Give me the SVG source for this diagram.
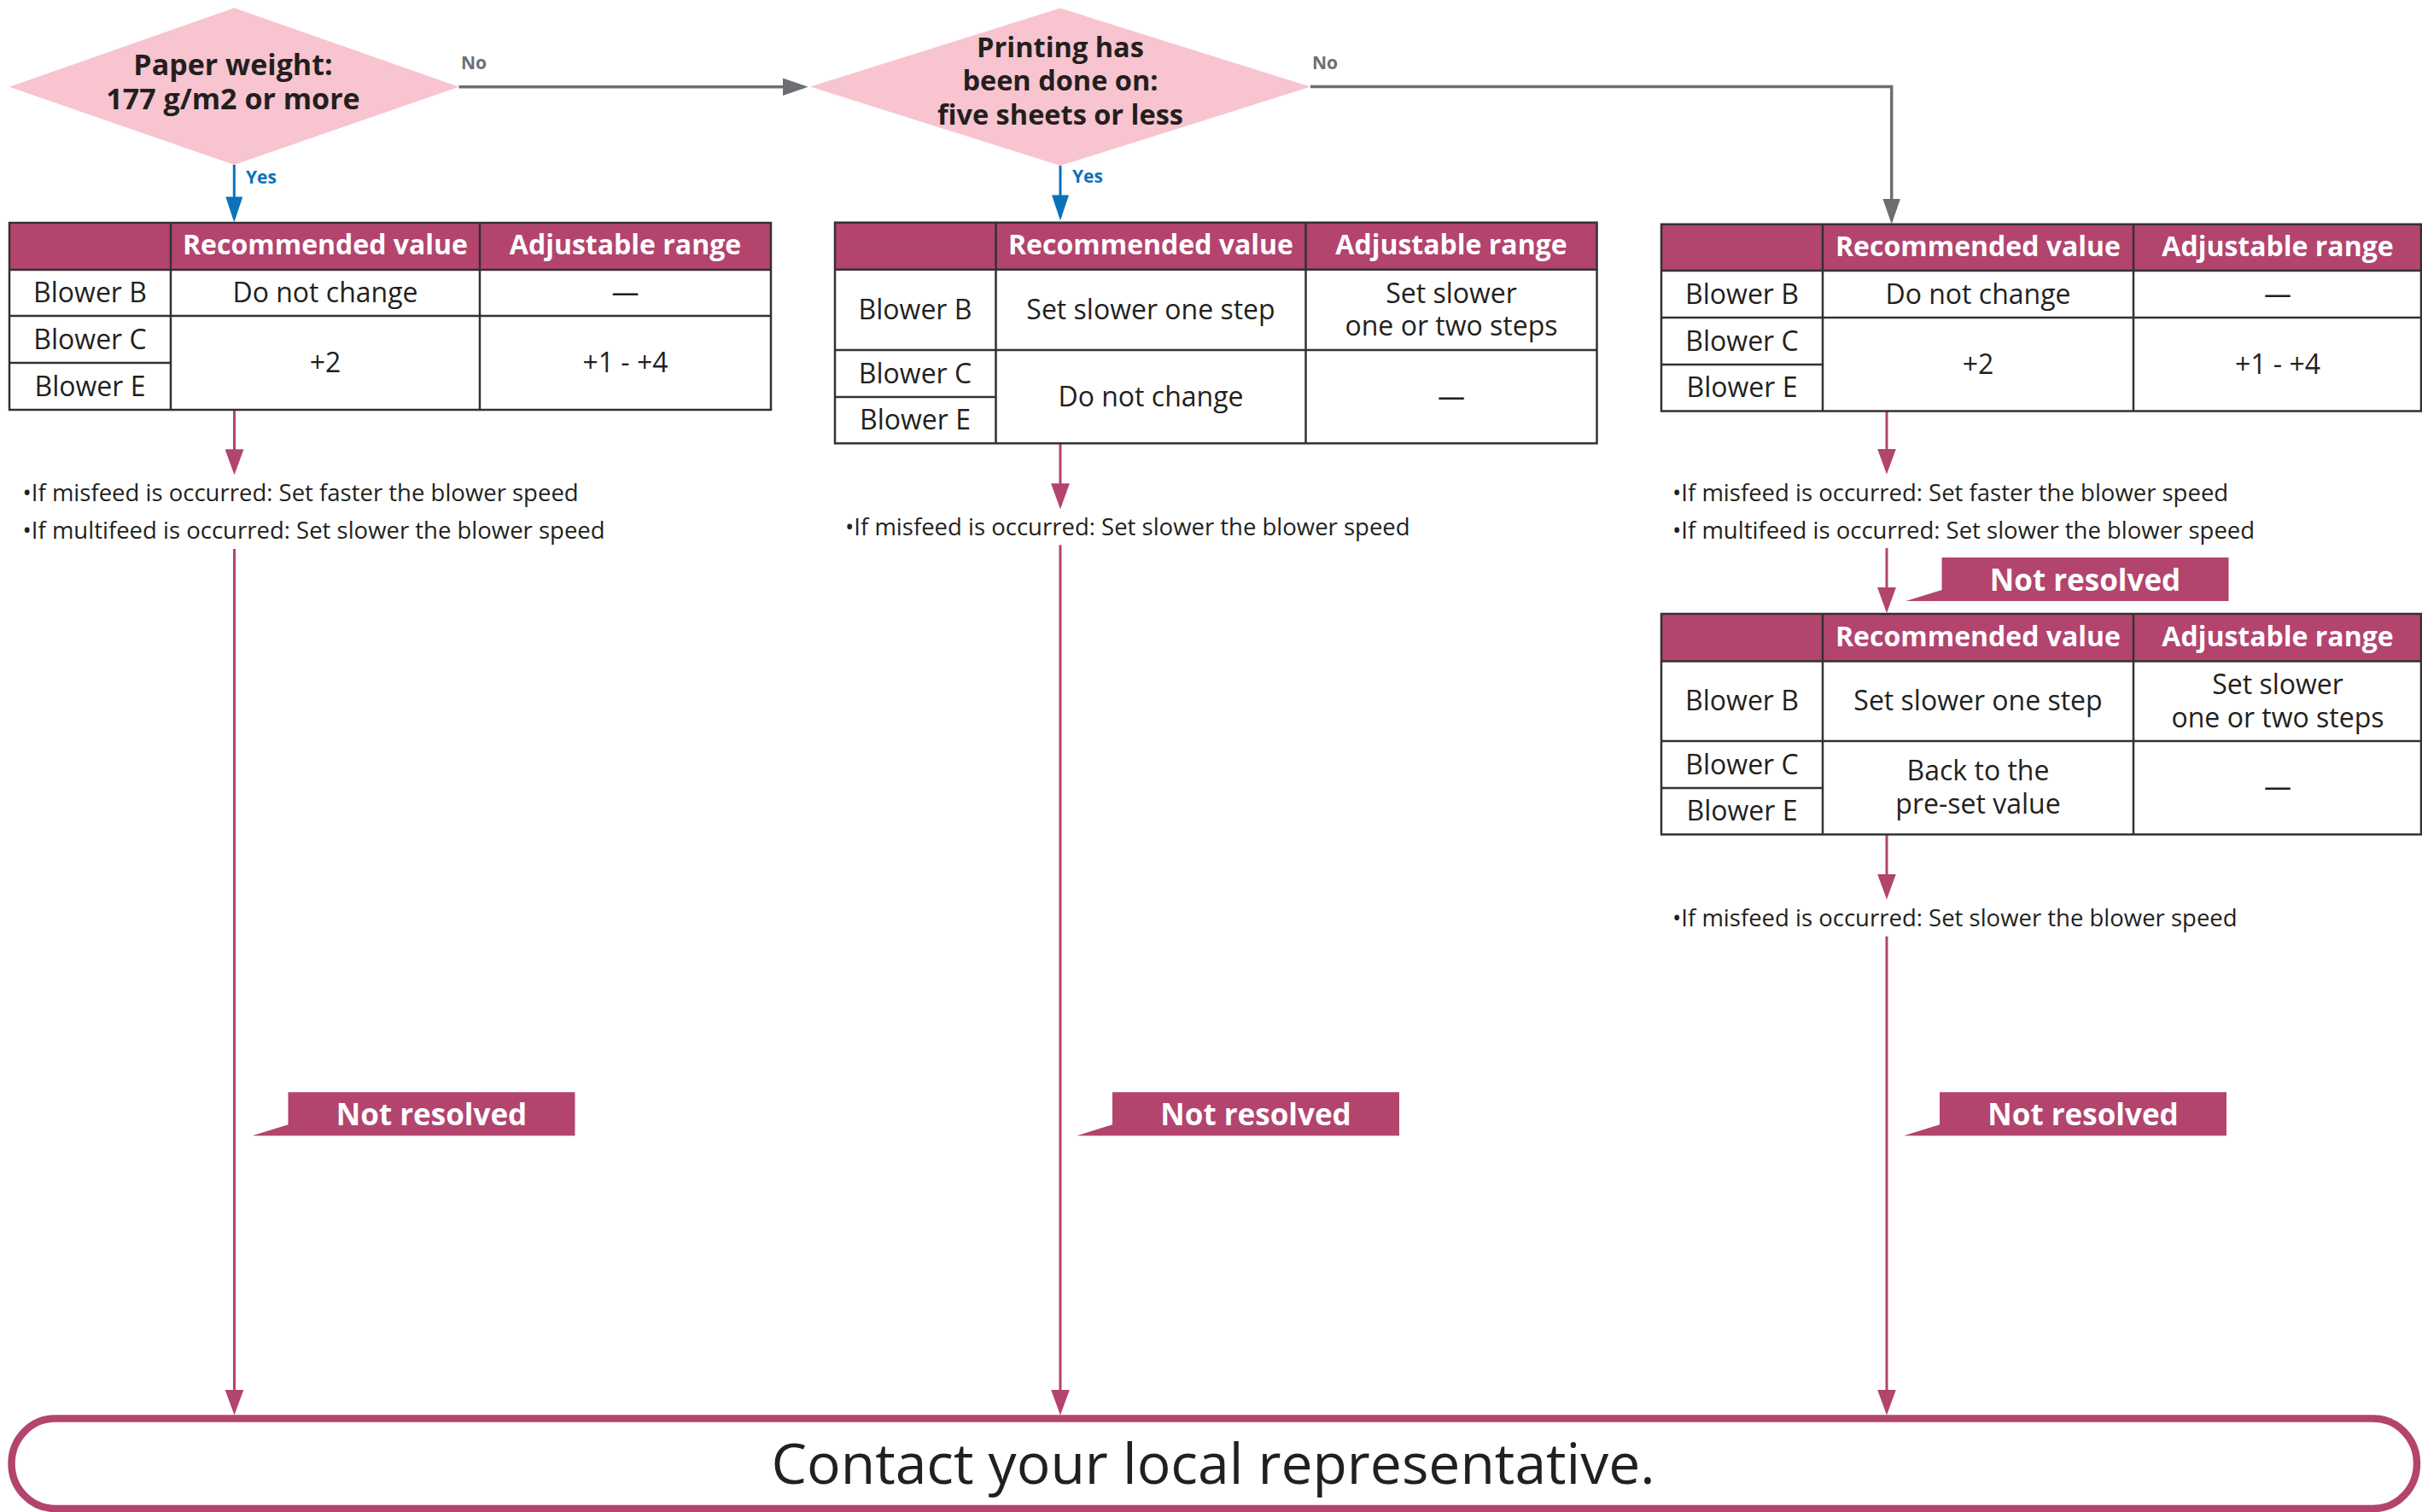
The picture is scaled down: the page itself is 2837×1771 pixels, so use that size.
<svg xmlns="http://www.w3.org/2000/svg" width="2837" height="1771" viewBox="0 0 2837 1771">
<style>
text{font-family:"Open Sans","Noto Sans","Liberation Sans",sans-serif}
.dia{fill:#f8c4cf}
.dtext{font-size:34px;font-weight:bold;fill:#231f20;text-anchor:middle}
.no{font-size:21px;font-weight:bold;fill:#6d6e71}
.yes{font-size:21px;font-weight:bold;fill:#0b72b9}
.th{font-size:32px;font-weight:bold;fill:#fff;text-anchor:middle}
.td{font-size:32px;fill:#231f20;text-anchor:middle}
.note{font-size:27.5px;fill:#231f20}
.tagt{font-size:35px;font-weight:bold;fill:#fff;text-anchor:middle}
.final{font-size:66px;fill:#231f20;text-anchor:middle}
.hdr{fill:#b3446e}
.grid{fill:none;stroke:#333132;stroke-width:2.5}
.tag{fill:#b3446e}
.pink{fill:none;stroke:#b3446e;stroke-width:3;marker-end:url(#mPink)}
.grey{fill:none;stroke:#6d6e71;stroke-width:3.5;marker-end:url(#mGrey)}
.blue{fill:none;stroke:#0b72b9;stroke-width:3;marker-end:url(#mBlue)}
</style>
<defs>
<marker id="mPink" markerUnits="userSpaceOnUse" markerWidth="30" markerHeight="22" viewBox="0 0 26 19" refX="22" refY="9.5" orient="auto"><path d="M0,0 L26,9.5 L0,19 Z" fill="#b3446e"/></marker>
<marker id="mGrey" markerUnits="userSpaceOnUse" markerWidth="30" markerHeight="22" viewBox="0 0 26 18" refX="22" refY="9" orient="auto"><path d="M0,0 L26,9 L0,18 Z" fill="#6d6e71"/></marker>
<marker id="mBlue" markerUnits="userSpaceOnUse" markerWidth="30" markerHeight="22" viewBox="0 0 27 18" refX="23" refY="9" orient="auto"><path d="M0,0 L27,9 L0,18 Z" fill="#0b72b9"/></marker>
<polygon id="tagShape" points="63,0 399,0 399,51 21,51 63,38"/>
</defs>

<g id="connectors">
<path class="grey" d="M537.5,101.7 H942"/>
<path class="grey" d="M1535,101.6 H2215.7 V258"/>
<path class="blue" d="M274.3,193 V256"/>
<path class="blue" d="M1242,194 V254"/>
<path class="pink" d="M274.5,480 V551.7"/>
<path class="pink" d="M274.5,643 V1653"/>
<path class="pink" d="M1242,519.5 V591.7"/>
<path class="pink" d="M1242,638.3 V1653"/>
<path class="pink" d="M2210,482 V551"/>
<path class="pink" d="M2210,642 V713.5"/>
<path class="pink" d="M2210,977.5 V1049"/>
<path class="pink" d="M2210,1096.7 V1653"/>
<text class="no" x="540" y="81">No</text>
<text class="no" x="1537" y="81">No</text>
<text class="yes" x="288" y="215">Yes</text>
<text class="yes" x="1256" y="213.5">Yes</text>
</g>

<g id="decision1">
<polygon class="dia" points="11,101.7 274.3,9.3 537.5,101.7 274.3,193"/>
<text class="dtext" x="273" y="87.5">Paper weight:<tspan x="273" y="128">177 g/m2 or more</tspan></text>
</g>

<g id="decision2">
<polygon class="dia" points="949,101.6 1242,9.6 1535,101.6 1242,194"/>
<text class="dtext" style="font-size:32.5px" x="1242" y="66.5">Printing has<tspan x="1242" y="106">been done on:</tspan><tspan x="1242" y="145.5">five sheets or less</tspan></text>
</g>

<g id="table1">
<rect class="hdr" x="11" y="261" width="892" height="55"/>
<rect class="grid" x="11" y="261" width="892" height="219"/>
<path class="grid" d="M11,316 H903 M11,370 H903 M11,425 H200 M200,261 V480 M562,261 V480"/>
<text class="th" x="381" y="298">Recommended value</text>
<text class="th" x="732.5" y="298">Adjustable range</text>
<text class="td" x="105.5" y="354">Blower B</text>
<text class="td" x="381" y="354">Do not change</text>
<text class="td" x="732.5" y="354">—</text>
<text class="td" x="105.5" y="409">Blower C</text>
<text class="td" x="105.5" y="464">Blower E</text>
<text class="td" x="381" y="436">+2</text>
<text class="td" x="732.5" y="436">+1 - +4</text>
</g>

<g id="table2">
<rect class="hdr" x="978" y="260.7" width="892.5" height="55.1"/>
<rect class="grid" x="978" y="260.7" width="892.5" height="258.6"/>
<path class="grid" d="M978,315.8 H1870.5 M978,410 H1870.5 M978,465 H1166.5 M1166.5,260.7 V519.3 M1529.5,260.7 V519.3"/>
<text class="th" x="1348" y="297.5">Recommended value</text>
<text class="th" x="1700" y="297.5">Adjustable range</text>
<text class="td" x="1072" y="374">Blower B</text>
<text class="td" x="1348" y="374">Set slower one step</text>
<text class="td" x="1700" y="355">Set slower<tspan x="1700" y="393">one or two steps</tspan></text>
<text class="td" x="1072" y="449">Blower C</text>
<text class="td" x="1072" y="503">Blower E</text>
<text class="td" x="1348" y="476">Do not change</text>
<text class="td" x="1700" y="476">—</text>
</g>

<g id="table3">
<rect class="hdr" x="1946" y="262.7" width="890" height="54.3"/>
<rect class="grid" x="1946" y="262.7" width="890" height="218.8"/>
<path class="grid" d="M1946,317 H2836 M1946,372 H2836 M1946,427 H2135 M2135,262.7 V481.5 M2499,262.7 V481.5"/>
<text class="th" x="2317" y="300">Recommended value</text>
<text class="th" x="2668" y="300">Adjustable range</text>
<text class="td" x="2040.5" y="355.5">Blower B</text>
<text class="td" x="2317" y="355.5">Do not change</text>
<text class="td" x="2668" y="355.5">—</text>
<text class="td" x="2040.5" y="410.5">Blower C</text>
<text class="td" x="2040.5" y="465">Blower E</text>
<text class="td" x="2317" y="438">+2</text>
<text class="td" x="2668" y="438">+1 - +4</text>
</g>

<g id="table4">
<rect class="hdr" x="1946" y="719" width="890" height="55.6"/>
<rect class="grid" x="1946" y="719" width="890" height="258.4"/>
<path class="grid" d="M1946,774.6 H2836 M1946,868 H2836 M1946,923 H2135 M2135,719 V977.4 M2499,719 V977.4"/>
<text class="th" x="2317" y="757">Recommended value</text>
<text class="th" x="2668" y="757">Adjustable range</text>
<text class="td" x="2040.5" y="832">Blower B</text>
<text class="td" x="2317" y="832">Set slower one step</text>
<text class="td" x="2668" y="812.5">Set slower<tspan x="2668" y="851.5">one or two steps</tspan></text>
<text class="td" x="2040.5" y="906.5">Blower C</text>
<text class="td" x="2040.5" y="961">Blower E</text>
<text class="td" x="2317" y="914">Back to the<tspan x="2317" y="952.5">pre-set value</tspan></text>
<text class="td" x="2668" y="933">—</text>
</g>

<g id="note1">
<text class="note" x="26.5" y="586.7">•If misfeed is occurred: Set faster the blower speed<tspan x="26.5" y="631">•If multifeed is occurred: Set slower the blower speed</tspan></text>
</g>
<g id="note2">
<text class="note" x="990" y="626.7">•If misfeed is occurred: Set slower the blower speed</text>
</g>
<g id="note3">
<text class="note" x="1959" y="586.8">•If misfeed is occurred: Set faster the blower speed<tspan x="1959" y="631.4">•If multifeed is occurred: Set slower the blower speed</tspan></text>
</g>
<g id="note4">
<text class="note" x="1959" y="1085">•If misfeed is occurred: Set slower the blower speed</text>
</g>

<g id="tag1" transform="translate(274.5,1279.3)">
<use href="#tagShape" class="tag"/>
<text class="tagt" x="231" y="39">Not resolved</text>
</g>
<g id="tag2" transform="translate(1240,1279.3)">
<use href="#tagShape" class="tag"/>
<text class="tagt" x="231" y="39">Not resolved</text>
</g>
<g id="tag3" transform="translate(2211.5,653)">
<use href="#tagShape" class="tag"/>
<text class="tagt" x="231" y="39">Not resolved</text>
</g>
<g id="tag4" transform="translate(2209,1279.3)">
<use href="#tagShape" class="tag"/>
<text class="tagt" x="231" y="39">Not resolved</text>
</g>

<g id="contact">
<rect x="13.5" y="1661.5" width="2817.5" height="105.5" rx="51" ry="52.75" fill="#fff" stroke="#b3446e" stroke-width="8.5"/>
<text class="final" x="1421" y="1737.5">Contact your local representative.</text>
</g>
</svg>
